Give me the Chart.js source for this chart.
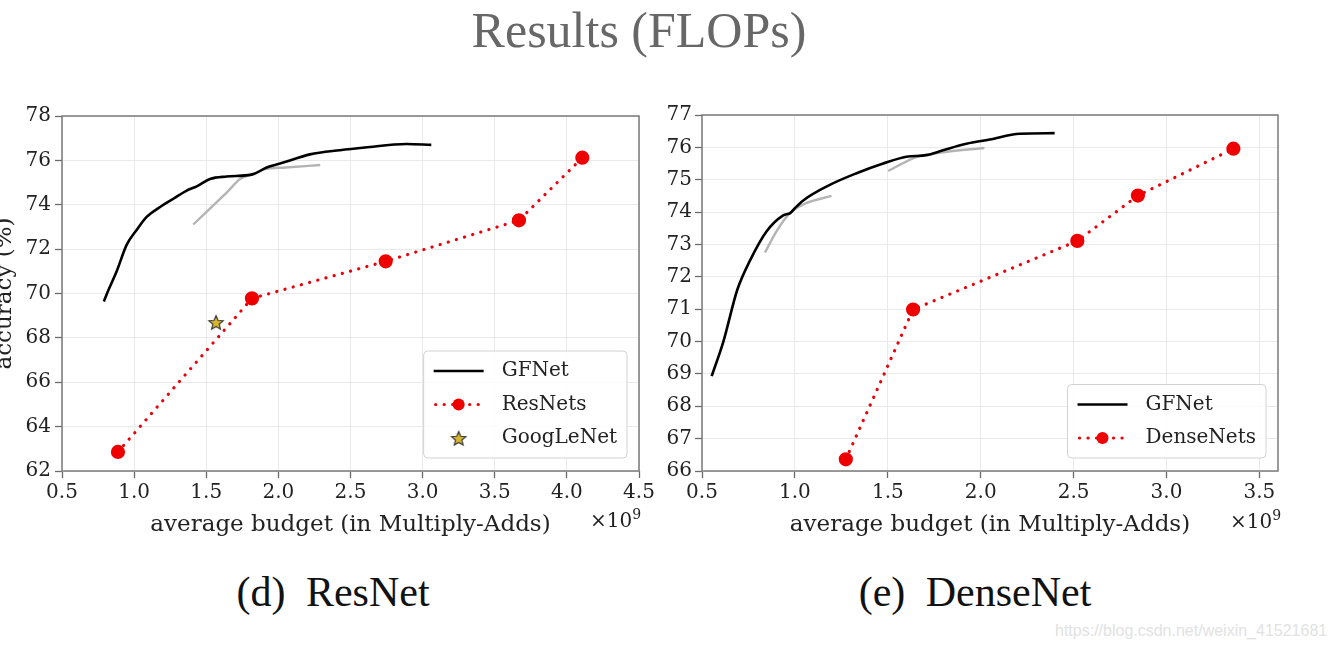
<!DOCTYPE html>
<html lang="en">
<head>
<meta charset="UTF-8">
<title>Results (FLOPs)</title>
<script src="https://cdn.jsdelivr.net/npm/chart.js"></script>
<style>
  body { margin: 0; background: #fff; width: 1335px; height: 650px; position: relative; overflow: hidden; }
  .abs { position: absolute; white-space: pre; }
  #title { left: 0; width: 1278px; top: 5px; text-align: center; font: 50px/50px "Liberation Serif", serif; color: #676767; }
  .sub { top: 571px; width: 400px; text-align: center; font: 42px/42px "Liberation Serif", serif; color: #111; word-spacing: 10px; }
  .exp { font: 20px/20px "DejaVu Serif", serif; color: #222; top: 510px; }
  .exp span { font-size: 14px; position: relative; top: -8px; }
  #mark { left: 1055px; top: 623px; font: 16px/16px "Liberation Sans", sans-serif; color: #e2e2e2; }
  #resWrap { position: absolute; left: 0; top: 100px; }
  #denWrap { position: absolute; left: 650px; top: 100px; }
</style>
</head>
<body>

<div class="abs" id="title">Results (FLOPs)</div>
<div id="resWrap"><canvas id="resChart" width="660" height="460"></canvas></div>
<div id="denWrap"><canvas id="denChart" width="685" height="460"></canvas></div>
<div class="abs exp" style="left:590px">×10<span>9</span></div>
<div class="abs exp" style="left:1230px; top:511px">×10<span>9</span></div>
<div class="abs sub" style="left:133px">(d) ResNet</div>
<div class="abs sub" style="left:775px">(e) DenseNet</div>
<div class="abs" id="mark">https://blog.csdn.net/weixin_41521681</div>

<script>
    // ---- (d) ResNet panel ----
    const resXTicks = [0.5, 1.0, 1.5, 2.0, 2.5, 3.0, 3.5, 4.0, 4.5];
    const resYTicks = [62, 64, 66, 68, 70, 72, 74, 76, 78];
    const resGFNetX = [0.79, 0.81, 0.879, 0.948, 1.017, 1.087, 1.18, 1.272, 1.364, 1.434, 1.526, 1.641, 1.826, 1.919, 2.034, 2.219, 2.427, 2.6, 2.89, 3.06];
    const resGFNetY = [69.64, 69.97, 71.0, 72.19, 72.86, 73.45, 73.9, 74.27, 74.64, 74.83, 75.16, 75.27, 75.38, 75.68, 75.9, 76.27, 76.46, 76.58, 76.74, 76.7];
    const resGrayX = [1.41, 1.549, 1.65, 1.734, 1.825, 1.9, 2.05, 2.29];
    const resGrayY = [73.11, 73.97, 74.6, 75.16, 75.38, 75.6, 75.68, 75.79];
    const resNetsX = [0.888, 1.817, 2.744, 3.668, 4.107];
    const resNetsY = [62.86, 69.78, 71.45, 73.30, 76.12];
    const googLeNetX = [1.568];
    const googLeNetY = [68.71];

    // ---- (e) DenseNet panel ----
    const denXTicks = [0.5, 1.0, 1.5, 2.0, 2.5, 3.0, 3.5];
    const denYTicks = [66, 67, 68, 69, 70, 71, 72, 73, 74, 75, 76, 77];
    const denGFNetX = [0.552, 0.615, 0.69, 0.758, 0.848, 0.937, 0.975, 1.0, 1.045, 1.188, 1.332, 1.475, 1.6, 1.708, 1.797, 1.923, 2.048, 2.21, 2.398];
    const denGFNetY = [68.93, 70.0, 71.6, 72.5, 73.41, 73.9, 73.97, 74.12, 74.36, 74.84, 75.2, 75.5, 75.71, 75.76, 75.91, 76.11, 76.24, 76.42, 76.44];
    const denGray1X = [0.839, 0.9, 0.973, 1.05, 1.197];
    const denGray1Y = [72.75, 73.4, 73.97, 74.25, 74.5];
    const denGray2X = [1.502, 1.654, 1.8, 2.02];
    const denGray2Y = [75.27, 75.7, 75.85, 75.98];
    const denseNetsX = [1.274, 1.636, 2.52, 2.846, 3.36];
    const denseNetsY = [66.36, 70.99, 73.11, 74.51, 75.96];

    const SERIF = '"DejaVu Serif", serif';
    const pts = (xs, ys) => xs.map((x, i) => ({ x: x, y: ys[i] }));

    // gold star marker
    function makeStar(size) {
        const c = document.createElement('canvas');
        c.width = c.height = size;
        const g = c.getContext('2d');
        const r = size / 2 - 1.5, ri = r * 0.45, cx = size / 2, cy = size / 2 + 1;
        g.beginPath();
        for (let i = 0; i < 10; i++) {
            const a = -Math.PI / 2 + i * Math.PI / 5;
            const rr = i % 2 ? ri : r;
            g.lineTo(cx + rr * Math.cos(a), cy + rr * Math.sin(a));
        }
        g.closePath();
        g.fillStyle = '#d8b52c';
        g.fill();
        g.strokeStyle = '#3a3a3a';
        g.lineWidth = 1.2;
        g.stroke();
        return c;
    }
    const star = makeStar(18);

    function gfLine(label, data) {
        return { label: label, data: data, showLine: true, borderColor: '#000', borderWidth: 2.6,
                 pointRadius: 0, cubicInterpolationMode: 'monotone', order: 0, legendKind: 'line' };
    }
    function grayLine(data) {
        return { label: '', data: data, showLine: true, borderColor: '#b4b4b4', borderWidth: 2.4,
                 pointRadius: 0, cubicInterpolationMode: 'monotone', order: 3 };
    }
    function redDots(label, data) {
        return { label: label, data: data, showLine: true, borderColor: '#e8000b', borderWidth: 3.2,
                 borderDash: [0.1, 8.4], borderCapStyle: 'round', pointRadius: 5.5,
                 pointBackgroundColor: '#ee0000', pointBorderColor: '#ee0000', tension: 0, order: 1,
                 legendKind: 'dots' };
    }

    // box around plot + legend in lower right
    const framePlugin = {
        id: 'frame',
        afterDraw(chart) {
            const ctx = chart.ctx, a = chart.chartArea;
            ctx.save();
            ctx.strokeStyle = '#7a7a7a';
            ctx.lineWidth = 1.5;
            ctx.strokeRect(a.left, a.top, a.right - a.left, a.bottom - a.top);

            const items = chart.data.datasets.filter(d => d.legendKind);
            ctx.font = '20px ' + SERIF;
            const textW = Math.max(...items.map(d => ctx.measureText(d.label).width));
            const w = 10 + 50 + 18 + textW + 10;
            const h = 40 + (items.length - 1) * 33.5;
            const x0 = a.right - 12 - w, y0 = a.bottom - 13 - h;
            ctx.beginPath();
            ctx.roundRect(x0, y0, w, h, 4);
            ctx.fillStyle = 'rgba(255,255,255,0.85)';
            ctx.fill();
            ctx.strokeStyle = '#d2d2d2';
            ctx.lineWidth = 1;
            ctx.stroke();

            items.forEach((d, i) => {
                const cy = y0 + 20 + i * 33.5, sx = x0 + 10;
                if (d.legendKind === 'line') {
                    ctx.beginPath();
                    ctx.moveTo(sx, cy); ctx.lineTo(sx + 50, cy);
                    ctx.strokeStyle = d.borderColor; ctx.lineWidth = d.borderWidth;
                    ctx.stroke();
                } else if (d.legendKind === 'dots') {
                    ctx.save();
                    ctx.beginPath();
                    ctx.setLineDash(d.borderDash); ctx.lineCap = 'round';
                    ctx.moveTo(sx + 2, cy); ctx.lineTo(sx + 50, cy);
                    ctx.strokeStyle = d.borderColor; ctx.lineWidth = d.borderWidth;
                    ctx.stroke();
                    ctx.restore();
                    ctx.beginPath();
                    ctx.arc(sx + 25, cy, 6, 0, Math.PI * 2);
                    ctx.fillStyle = d.pointBackgroundColor;
                    ctx.fill();
                } else if (d.legendKind === 'star') {
                    ctx.drawImage(star, sx + 25 - star.width / 2, cy - star.height / 2);
                }
                ctx.fillStyle = '#222';
                ctx.textBaseline = 'middle';
                ctx.textAlign = 'left';
                ctx.fillText(d.label, sx + 68, cy);
            });
            ctx.restore();
        }
    };

    function makePanel(id, datasets, xTicks, yTicks, xMax, yAxisW, rightPad, yTitle, yPad) {
        const ctx = document.getElementById(id).getContext('2d');
        return new Chart(ctx, {
            type: 'scatter',
            data: { datasets: datasets },
            plugins: [framePlugin],
            options: {
                responsive: false,
                animation: false,
                layout: { padding: { top: 11, right: rightPad, left: 0, bottom: 0 } },
                plugins: { legend: { display: false }, tooltip: { enabled: false } },
                scales: {
                    x: {
                        type: 'linear',
                        min: xTicks[0], max: xMax,
                        afterBuildTicks: s => { s.ticks = xTicks.map(v => ({ value: v })); },
                        afterFit: s => { s.height = 89; },
                        grid: { color: '#e9e9e9', lineWidth: 1, tickLength: 7, tickColor: '#6a6a6a', tickWidth: 1.3 },
                        border: { display: false },
                        ticks: { padding: 3, color: '#222', font: { family: SERIF, size: 20 },
                                 callback: v => v.toFixed(1), maxRotation: 0 },
                        title: { display: true, text: 'average budget (in Multiply-Adds)', color: '#222',
                                 font: { family: SERIF, size: 23 }, padding: { top: 0, bottom: 21 } }
                    },
                    y: {
                        type: 'linear',
                        min: yTicks[0], max: yTicks[yTicks.length - 1],
                        afterBuildTicks: s => { s.ticks = yTicks.map(v => ({ value: v })); },
                        afterFit: s => { s.width = yAxisW; },
                        grid: { color: '#e9e9e9', lineWidth: 1, tickLength: 7, tickColor: '#6a6a6a', tickWidth: 1.3 },
                        border: { display: false },
                        ticks: { padding: yPad, color: '#222', font: { family: SERIF, size: 20 } },
                        title: { display: !!yTitle, text: yTitle, color: '#222',
                                 font: { family: SERIF, size: 23 }, padding: { top: -9, bottom: 0 } }
                    }
                }
            }
        });
    }

    makePanel('resChart', [
        gfLine('GFNet', pts(resGFNetX, resGFNetY)),
        redDots('ResNets', pts(resNetsX, resNetsY)),
        { label: 'GoogLeNet', data: pts(googLeNetX, googLeNetY), pointStyle: star, pointRadius: 9,
          showLine: false, order: 0, legendKind: 'star' },
        grayLine(pts(resGrayX, resGrayY))
    ], resXTicks, resYTicks, 4.5, 62, 21, 'accuracy (%)', 4);

    makePanel('denChart', [
        gfLine('GFNet', pts(denGFNetX, denGFNetY)),
        redDots('DenseNets', pts(denseNetsX, denseNetsY)),
        grayLine(pts(denGray1X, denGray1Y)),
        grayLine(pts(denGray2X, denGray2Y))
    ], denXTicks, denYTicks, 3.6, 52, 57, '', 3);
</script>

</body>
</html>
